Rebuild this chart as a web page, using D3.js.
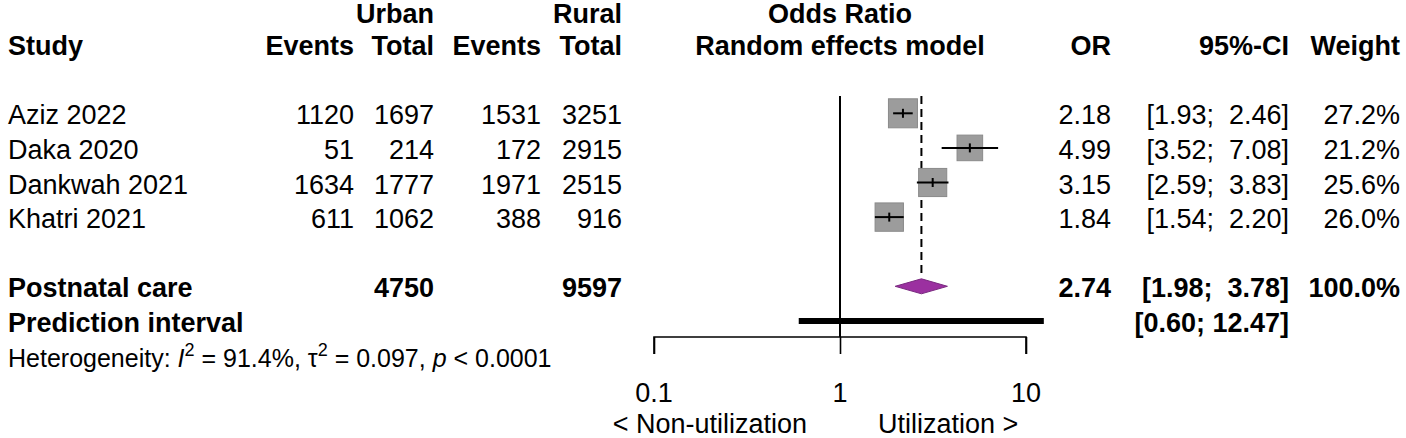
<!DOCTYPE html>
<html>
<head>
<meta charset="utf-8">
<script src="https://cdn.jsdelivr.net/npm/d3@7"></script>
<style>
    html, body { margin: 0; padding: 0; background: #ffffff; }
    svg text { font-family: "Liberation Sans", Arial, sans-serif; fill: #000; white-space: pre; }
    .bold { font-weight: bold; }
</style>
</head>
<body>
<div id="forest"></div>
<script>

// study level data
let studies     = ["Aziz 2022", "Daka 2020", "Dankwah 2021", "Khatri 2021"];
let urbanEvents = [1120, 51, 1634, 611];
let urbanTotal  = [1697, 214, 1777, 1062];
let ruralEvents = [1531, 172, 1971, 388];
let ruralTotal  = [3251, 2915, 2515, 916];
let oddsRatio   = [2.18, 4.99, 3.15, 1.84];
let ciLower     = [1.93, 3.52, 2.59, 1.54];
let ciUpper     = [2.46, 7.08, 3.83, 2.20];
let weights     = [27.2, 21.2, 25.6, 26.0];

// pooled results
let pooledLabel  = "Postnatal care";
let pooledTotals = [4750, 9597];
let pooledOR     = [2.74, 1.98, 3.78];   // estimate, lower, upper
let pooledWeight = 100.0;
let predInterval = [0.60, 12.47];

// axis
let tickValues = [0.1, 1, 10];
let labelLeft  = "< Non-utilization";
let labelRight = "Utilization >";

class ForestVis {

    constructor(parentElement) {
        this.parentElement = parentElement;
        this.initVis();
    }

    initVis() {
        let vis = this;

        vis.width = 1406;
        vis.height = 438;

        vis.svg = d3.select("#" + vis.parentElement).append("svg")
            .attr("width", vis.width)
            .attr("height", vis.height);

        // rows: baseline positions of each text line
        vis.rowY = d3.scaleLinear().domain([0, 1]).range([20.5, 55.1]);
        vis.markY = i => vis.rowY(i) - 11;
        vis.topY = 23;   // first header line sits a bit lower

        // log scale for the odds ratio
        vis.x = d3.scaleLog().domain([0.1, 10]).range([654, 1026]);

        // square side follows sqrt of weight
        vis.boxSize = d3.scaleSqrt().domain([0, d3.max(weights)]).range([0, 29]);

        // column right edges
        vis.col = {study: 8, uEv: 354, uTot: 434, rEv: 541, rTot: 622, or: 1111, ci: 1289, w: 1400};

        vis.fmt2 = d3.format(".2f");
        vis.fmt1 = d3.format(".1f");

        vis.drawText();
        vis.drawPlot();
    }

    text(x, y, str, anchor = "end", bold = false, size = 27) {
        return this.svg.append("text")
            .attr("x", x)
            .attr("y", y)
            .attr("text-anchor", anchor)
            .attr("class", bold ? "bold" : null)
            .style("font-size", size + "px")
            .text(str);
    }

    ciText(lo, hi) {
        let a = this.fmt2(lo), b = this.fmt2(hi);
        // meta pads the upper bound to equal width
        let pad = b.length < 5 ? "  " : " ";
        return "[" + a + ";" + pad + b + "]";
    }

    drawText() {
        let vis = this;
        let c = vis.col;

        // headers
        vis.text(c.uTot, vis.topY, "Urban", "end", true);
        vis.text(c.rTot, vis.topY, "Rural", "end", true);
        vis.text(840, vis.topY, "Odds Ratio", "middle", true);

        vis.text(c.study, vis.rowY(1), "Study", "start", true);
        vis.text(c.uEv, vis.rowY(1), "Events", "end", true);
        vis.text(c.uTot, vis.rowY(1), "Total", "end", true);
        vis.text(c.rEv, vis.rowY(1), "Events", "end", true);
        vis.text(c.rTot, vis.rowY(1), "Total", "end", true);
        vis.text(840, vis.rowY(1), "Random effects model", "middle", true);
        vis.text(c.or, vis.rowY(1), "OR", "end", true);
        vis.text(c.ci, vis.rowY(1), "95%-CI", "end", true);
        vis.text(c.w, vis.rowY(1), "Weight", "end", true);

        // studies
        studies.forEach((s, i) => {
            let y = vis.rowY(i + 3);
            vis.text(c.study, y, s, "start");
            vis.text(c.uEv, y, urbanEvents[i]);
            vis.text(c.uTot, y, urbanTotal[i]);
            vis.text(c.rEv, y, ruralEvents[i]);
            vis.text(c.rTot, y, ruralTotal[i]);
            vis.text(c.or, y, vis.fmt2(oddsRatio[i]));
            vis.text(c.ci, y, vis.ciText(ciLower[i], ciUpper[i]));
            vis.text(c.w, y, vis.fmt1(weights[i]) + "%");
        });

        // pooled row
        let yp = vis.rowY(8);
        vis.text(c.study, yp, pooledLabel, "start", true);
        vis.text(c.uTot, yp, pooledTotals[0], "end", true);
        vis.text(c.rTot, yp, pooledTotals[1], "end", true);
        vis.text(c.or, yp, vis.fmt2(pooledOR[0]), "end", true);
        vis.text(c.ci, yp, vis.ciText(pooledOR[1], pooledOR[2]), "end", true);
        vis.text(c.w, yp, vis.fmt1(pooledWeight) + "%", "end", true);

        // prediction interval row
        let yq = vis.rowY(9);
        vis.text(c.study, yq, "Prediction interval", "start", true);
        vis.text(c.ci, yq, vis.ciText(predInterval[0], predInterval[1]), "end", true);

        // heterogeneity
        let het = vis.svg.append("text")
            .attr("x", c.study)
            .attr("y", vis.rowY(10))
            .style("font-size", "25px");
        het.append("tspan").text("Heterogeneity: ");
        het.append("tspan").style("font-style", "italic").text("I");
        het.append("tspan").attr("dy", -11).style("font-size", "18px").text("2");
        het.append("tspan").attr("dy", 11).text(" = 91.4%, \u03c4");
        het.append("tspan").attr("dy", -11).style("font-size", "18px").text("2");
        het.append("tspan").attr("dy", 11).text(" = 0.097, ");
        het.append("tspan").style("font-style", "italic").text("p");
        het.append("tspan").text(" < 0.0001");
    }

    drawPlot() {
        let vis = this;
        let x = vis.x;
        let axisY = 337;

        // reference line at 1
        vis.svg.append("line")
            .attr("x1", x(1)).attr("x2", x(1))
            .attr("y1", 96).attr("y2", axisY)
            .attr("stroke", "#000").attr("stroke-width", 2);

        // pooled estimate dashed line
        vis.svg.append("line")
            .attr("x1", x(pooledOR[0])).attr("x2", x(pooledOR[0]))
            .attr("y1", 96).attr("y2", 273)
            .attr("stroke", "#000").attr("stroke-width", 2)
            .attr("stroke-dasharray", "8,5");

        // study squares
        let rows = studies.map((s, i) => ({
            study: s, or: oddsRatio[i], lo: ciLower[i], hi: ciUpper[i], w: weights[i], y: vis.markY(i + 3)
        }));

        vis.svg.selectAll(".box").data(rows).enter().append("rect")
            .attr("class", "box")
            .attr("x", d => x(d.or) - vis.boxSize(d.w) / 2)
            .attr("y", d => d.y - vis.boxSize(d.w) / 2)
            .attr("width", d => vis.boxSize(d.w))
            .attr("height", d => vis.boxSize(d.w))
            .attr("fill", "#9c9c9c")
            .attr("stroke", "#8a8a8a")
            .attr("stroke-width", 1);

        vis.svg.selectAll(".ci").data(rows).enter().append("line")
            .attr("class", "ci")
            .attr("x1", d => x(d.lo)).attr("x2", d => x(d.hi))
            .attr("y1", d => d.y).attr("y2", d => d.y)
            .attr("stroke", "#000").attr("stroke-width", 2);

        vis.svg.selectAll(".est").data(rows).enter().append("line")
            .attr("class", "est")
            .attr("x1", d => x(d.or)).attr("x2", d => x(d.or))
            .attr("y1", d => d.y - 4.5).attr("y2", d => d.y + 4.5)
            .attr("stroke", "#000").attr("stroke-width", 2);

        // pooled diamond
        let yd = vis.markY(8);
        let diamond = [[x(pooledOR[1]), yd], [x(pooledOR[0]), yd - 7.5], [x(pooledOR[2]), yd], [x(pooledOR[0]), yd + 7.5]];
        vis.svg.append("path")
            .attr("d", d3.line()(diamond) + "Z")
            .attr("fill", "#9b30a0")
            .attr("stroke", "#7a2a80")
            .attr("stroke-width", 1);

        // prediction interval bar
        let yq = vis.markY(9);
        vis.svg.append("line")
            .attr("x1", x(predInterval[0])).attr("x2", x(predInterval[1]))
            .attr("y1", yq).attr("y2", yq)
            .attr("stroke", "#000").attr("stroke-width", 6);

        // axis
        let axisG = vis.svg.append("g")
            .attr("transform", `translate(0, ${axisY})`);
        axisG.call(d3.axisBottom(x).tickValues(tickValues).tickSize(17).tickFormat(""));
        axisG.select(".domain")
            .attr("d", `M${x(0.1)},17V0H${x(10)}V17`)
            .attr("stroke", "#000").attr("stroke-width", 1.6);
        axisG.selectAll(".tick line").attr("stroke", "#000").attr("stroke-width", 1.6);

        tickValues.forEach(t => {
            vis.text(x(t), 402, String(t), "middle");
        });

        vis.text(807, 433, labelLeft, "end");
        vis.text(878, 433, labelRight, "start");
    }
}

new ForestVis("forest");

</script>
</body>
</html>
